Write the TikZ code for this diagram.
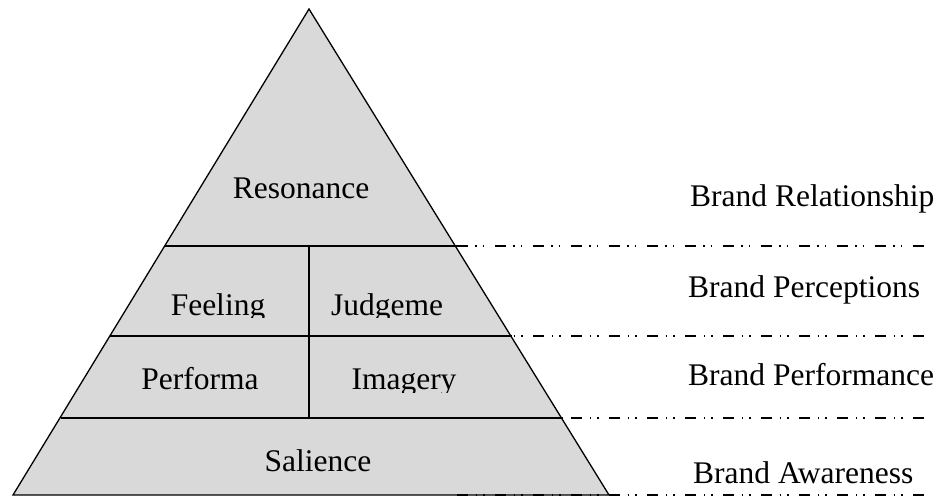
\documentclass[tikz,border=0pt]{standalone}
\usepackage{fontspec}
\setmainfont{Liberation Serif}
\usetikzlibrary{positioning,calc}

\definecolor{pyrfill}{RGB}{217,217,217}

\tikzset{
    level/.style={line width=1.3pt},
    sep/.style={line width=1.2pt, dash pattern=on 11pt off 7.5pt on 1.5pt off 6pt on 1.5pt off 10.5pt},
    txt/.style={anchor=base, inner sep=0pt, font=\fontsize{31.5}{36}\selectfont},
    side/.style={anchor=base west, inner sep=0pt, font=\fontsize{31.5}{36}\selectfont}
}

\begin{document}
\begin{tikzpicture}[x=1pt, y=-1pt]
                    \useasboundingbox (0, 0) rectangle (939, 497);
                    % Corners
                    \coordinate (apex) at (309, 9);
                    \coordinate (bl) at (13, 495);
                    \coordinate (br) at (609, 495);
                    % Levels
                    \coordinate (l1) at (165, 246);
                    \coordinate (r1) at (456.5, 246);
                    \coordinate (l2) at (110, 336);
                    \coordinate (r2) at (512, 336);
                    \coordinate (l3) at (61, 418);
                    \coordinate (r3) at (562.5, 418);
                    \coordinate (m1) at (309, 246);
                    \coordinate (m3) at (309, 418);
                    % Pyramid
                    \draw[level, fill=pyrfill, line join=miter] (apex) -- (br) -- (bl) -- cycle;
                    \draw[level] (l1) -- (r1);
                    \draw[level] (l2) -- (r2);
                    \draw[level] (l3) -- (r3);
                    \draw[level] (m1) -- (m3);
                    % Dashed guides
                    \coordinate (e1) at (929, 246);
                    \coordinate (e2) at (929, 336);
                    \coordinate (e3) at (929, 418);
                    \coordinate (e4) at (929, 495);
                    \coordinate (s2) at (457, 336);
                    \coordinate (s3) at (457, 418);
                    \coordinate (s4) at (457, 495);
                    \draw[sep] (r1) -- (e1);
                    \draw[sep] (s2) -- (e2);
                    \draw[sep] (s3) -- (e3);
                    \draw[sep] (s4) -- (e4);
                    % Elements
                    \node[txt] (resonance) at (301, 199) {Resonance};
                    \begin{scope}
                        \clip (0, 246) rectangle (939, 317);
                        \node[txt] (feeling) at (218, 315) {Feeling};
                        \node[txt] (judgeme) at (387, 315) {Judgeme};
                    \end{scope}
                    \begin{scope}
                        \clip (0, 336) rectangle (939, 392);
                        \node[txt] (performa) at (200, 389) {Performa};
                        \node[txt] (imagery) at (404, 389) {Imagery};
                    \end{scope}
                    \node[txt] (salience) at (318, 471) {Salience};
                    % Labels
                    \node[side] (relationship) at (690, 207) {Brand Relationship};
                    \node[side] (perceptions) at (688, 297) {Brand Perceptions};
                    \node[side] (performance) at (688, 385) {Brand Performance};
                    \node[side] (awareness) at (693, 483) {Brand Awareness};
\end{tikzpicture}
\end{document}
